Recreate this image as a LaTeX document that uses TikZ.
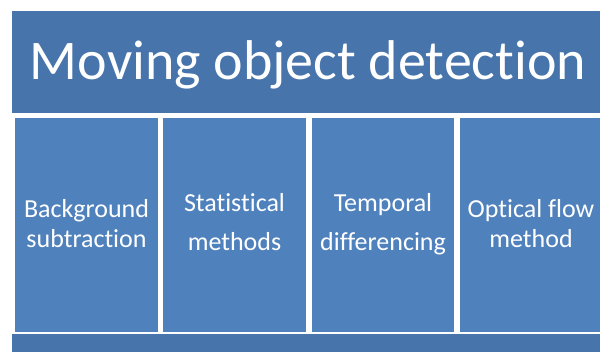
\documentclass[tikz,border=0pt]{standalone}
\usepackage{fontspec}
\setmainfont{Carlito}[Ligatures=NoCommon]
\definecolor{bandblue}{HTML}{4774AB}
\definecolor{boxblue}{HTML}{4F81BD}
\begin{document}
\begin{tikzpicture}[x=1pt,y=-1pt,
  band/.style={fill=bandblue,draw=none},
  methodbox/.style={fill=boxblue,draw=none},
  boxtext/.style={text=white,align=center,anchor=base,inner sep=0pt}]
\useasboundingbox (0,0) rectangle (600,352);
\fill[white] (0,0) rectangle (600,352);
\path[band] (12,11) rectangle (600,113);
\node[text=white,anchor=base,inner sep=0pt,font=\fontsize{56}{66}\selectfont] (title) at (308,80) {Moving object detection};
\path[methodbox] (15,118) rectangle (158,332) coordinate (b1);
\path[methodbox] (163,118) rectangle (306,332) coordinate (b2);
\path[methodbox] (312,118) rectangle (454,332) coordinate (b3);
\path[methodbox] (460,118) rectangle (602,332) coordinate (b4);
\path[band] (12,334) rectangle (600,352);
\node[boxtext,font=\fontsize{26}{30}\selectfont] (t1) at (86.5,248) {Background\\subtraction};
\node[boxtext,font=\fontsize{26}{39}\selectfont] (t2) at (234.5,251) {Statistical\\methods};
\node[boxtext,font=\fontsize{26}{39}\selectfont] (t3) at (383,251) {Temporal\\differencing};
\node[boxtext,font=\fontsize{26}{30}\selectfont] (t4) at (531,247.5) {Optical flow\\method};
\end{tikzpicture}
\end{document}
